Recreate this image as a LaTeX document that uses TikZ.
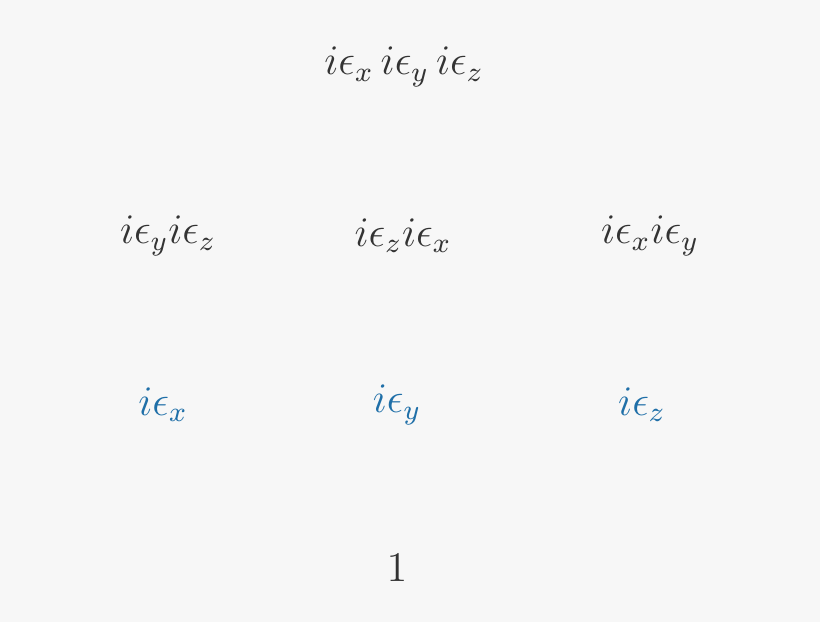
\documentclass[tikz,border=0pt]{standalone}
\usepackage{amsmath,amssymb}
\usepackage{xcolor}
\usepackage{tikz}
\definecolor{bg}{HTML}{F7F7F7}
\definecolor{ink}{HTML}{333333}
\definecolor{vec}{HTML}{1F6FA8}
\tikzset{
  lab/.style={text=ink, font=\large, inner sep=0pt},
  labv/.style={text=vec, font=\large, inner sep=0pt},
}
\begin{document}
\begin{tikzpicture}[x=0.01cm,y=-0.01cm]
  \fill[bg] (0,0) rectangle (820,622);
  \useasboundingbox (0,0) rectangle (820,622);

  \node[lab] (xyz) at (404,67) {$i\epsilon_x\,i\epsilon_y\,i\epsilon_z$};

  \node[lab] (yz) at (168,236) {$i\epsilon_y i\epsilon_z$};
  \node[lab] (zx) at (403,236) {$i\epsilon_z i\epsilon_x$};
  \node[lab] (xy) at (650,236) {$i\epsilon_x i\epsilon_y$};

  \node[labv] (ex) at (163,405) {$i\epsilon_x$};
  \node[labv] (ey) at (397,405) {$i\epsilon_y$};
  \node[labv] (ez) at (642,405) {$i\epsilon_z$};

  \node[lab] (one) at (397,568) {$1$};
\end{tikzpicture}
\end{document}
